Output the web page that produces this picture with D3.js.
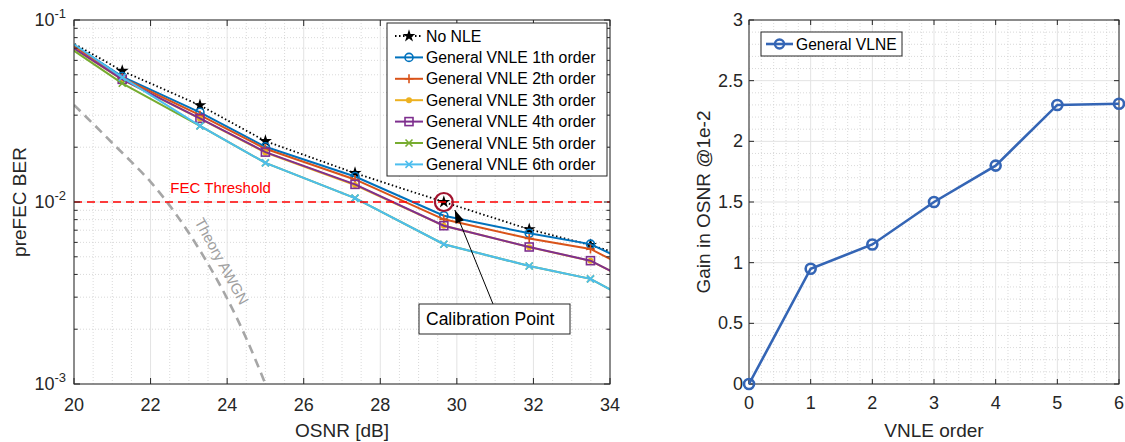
<!DOCTYPE html>
<html>
<head>
<meta charset="utf-8">
<script src="https://cdn.jsdelivr.net/npm/d3@7"></script>
<style>
  body { margin: 0; background: #fff; }
  svg { display: block; font-family: "Liberation Sans", Arial, sans-serif; }
</style>
</head>
<body>
<svg id="fig" width="1125" height="442"></svg>
<script>
// ---- left chart data (preFEC BER vs OSNR) ----
const osnr = [19.2, 21.26, 23.29, 25.0, 27.34, 29.66, 31.89, 33.49, 35.3];
const noNle = [0.0922, 0.0525, 0.0340, 0.0216, 0.0144, 0.0100, 0.00708, 0.0058, 0.00444];
const vnle1 = [0.0940, 0.0489, 0.0311, 0.0201, 0.0138, 0.00841, 0.00673, 0.00587, 0.00387];
const vnle2 = [0.0923, 0.0480, 0.0300, 0.0196, 0.0133, 0.00803, 0.0063, 0.00552, 0.00352];
const vnle3 = [0.0893, 0.0471, 0.0287, 0.0187, 0.0124, 0.0074, 0.00565, 0.00475, 0.00305];
const vnle4 = [0.0895, 0.0472, 0.0288, 0.0188, 0.0125, 0.00741, 0.00566, 0.00476, 0.00304];
const vnle5 = [0.0881, 0.0449, 0.0262, 0.0164, 0.0105, 0.00586, 0.00445, 0.00378, 0.00237];
const vnle6 = [0.0957, 0.0484, 0.0262, 0.0164, 0.0105, 0.00586, 0.00445, 0.00378, 0.00237];
const seriesNames = ["No NLE", "General VNLE 1th order", "General VNLE 2th order", "General VNLE 3th order",
  "General VNLE 4th order", "General VNLE 5th order", "General VNLE 6th order"];

const theoryOsnr = [20, 20.5, 21, 21.5, 22, 22.5, 23, 23.5, 24, 24.5, 25];
const theoryBer = [0.0341, 0.0269, 0.0211, 0.0166, 0.0129, 0.00955, 0.00676, 0.00457, 0.00295, 0.00178, 0.001];
const fecThreshold = 1e-2;
const calibration = [29.66, 0.0100];

const xTicksL = [20, 22, 24, 26, 28, 30, 32, 34];
const yTicksL = [1e-3, 1e-2, 1e-1];

// ---- right chart data (gain vs VNLE order) ----
const order = [0, 1, 2, 3, 4, 5, 6];
const gain = [0, 0.95, 1.15, 1.5, 1.8, 2.3, 2.31];
const yTicksR = [0, 0.5, 1, 1.5, 2, 2.5, 3];

const axisColor = "#262626";
const colors = ["#000000", "#0072BD", "#D95319", "#EDB120", "#7E2F8E", "#77AC30", "#4DBEEE"];
const markers = ["star", "circle", "plus", "dot", "square", "x", "x"];
const seriesData = [noNle, vnle1, vnle2, vnle3, vnle4, vnle5, vnle6];

const svg = d3.select("#fig");

function drawMarker(g, type, color, x, y) {
  if (type === "star") {
    g.append("path").attr("d", d3.symbol(d3.symbolStar, 52)())
      .attr("transform", `translate(${x},${y})`).attr("fill", color);
  } else if (type === "circle") {
    g.append("circle").attr("cx", x).attr("cy", y).attr("r", 4)
      .attr("fill", "none").attr("stroke", color).attr("stroke-width", 1.6);
  } else if (type === "square") {
    g.append("rect").attr("x", x - 4).attr("y", y - 4).attr("width", 8).attr("height", 8)
      .attr("fill", "none").attr("stroke", color).attr("stroke-width", 1.6);
  } else if (type === "dot") {
    g.append("circle").attr("cx", x).attr("cy", y).attr("r", 3).attr("fill", color);
  } else if (type === "plus") {
    g.append("path").attr("d", `M${x - 4.5},${y}H${x + 4.5}M${x},${y - 4.5}V${y + 4.5}`)
      .attr("stroke", color).attr("stroke-width", 1.6);
  } else if (type === "x") {
    g.append("path").attr("d", `M${x - 3.5},${y - 3.5}L${x + 3.5},${y + 3.5}M${x - 3.5},${y + 3.5}L${x + 3.5},${y - 3.5}`)
      .attr("stroke", color).attr("stroke-width", 1.6);
  }
}

// ================= LEFT CHART =================
const L = { left: 74, right: 610, top: 20, bottom: 384 };
const xL = d3.scaleLinear().domain([20, 34]).range([L.left, L.right]);
const yL = d3.scaleLog().domain([1e-3, 1e-1]).range([L.bottom, L.top]);

const gl = svg.append("g");

// minor grid
const xMinorL = d3.range(20, 34.01, 0.5).filter(v => v % 2 !== 0);
const yMinorL = [];
[1e-3, 1e-2].forEach(dec => { for (let k = 2; k <= 9; k++) yMinorL.push(dec * k); });

gl.selectAll(".xminor").data(xMinorL).join("line")
  .attr("x1", d => xL(d)).attr("x2", d => xL(d)).attr("y1", L.top).attr("y2", L.bottom)
  .attr("stroke", "#cfcfcf").attr("stroke-width", 0.8).attr("stroke-dasharray", "1,2");
gl.selectAll(".yminor").data(yMinorL).join("line")
  .attr("x1", L.left).attr("x2", L.right).attr("y1", d => yL(d)).attr("y2", d => yL(d))
  .attr("stroke", "#cfcfcf").attr("stroke-width", 0.8).attr("stroke-dasharray", "1,2");
// major grid
gl.selectAll(".xmajor").data(xTicksL).join("line")
  .attr("x1", d => xL(d)).attr("x2", d => xL(d)).attr("y1", L.top).attr("y2", L.bottom)
  .attr("stroke", "#e3e3e3").attr("stroke-width", 1);
gl.selectAll(".ymajor").data(yTicksL).join("line")
  .attr("x1", L.left).attr("x2", L.right).attr("y1", d => yL(d)).attr("y2", d => yL(d))
  .attr("stroke", "#e3e3e3").attr("stroke-width", 1);

svg.append("clipPath").attr("id", "clipL").append("rect")
  .attr("x", L.left).attr("y", L.top).attr("width", L.right - L.left).attr("height", L.bottom - L.top);
const plotL = gl.append("g").attr("clip-path", "url(#clipL)");

// theory AWGN curve
const theoryLine = d3.line().x((d, i) => xL(theoryOsnr[i])).y(d => yL(d)).curve(d3.curveMonotoneX);
plotL.append("path").attr("d", theoryLine(theoryBer))
  .attr("fill", "none").attr("stroke", "#a6a6a6").attr("stroke-width", 2.6).attr("stroke-dasharray", "9,6");

// measured series
seriesData.forEach((vals, s) => {
  const line = d3.line().x((d, i) => xL(osnr[i])).y(d => yL(d));
  plotL.append("path").attr("d", line(vals)).attr("fill", "none")
    .attr("stroke", colors[s]).attr("stroke-width", s === 0 ? 1.8 : 2)
    .attr("stroke-dasharray", s === 0 ? "1.5,2.5" : null);
  vals.forEach((v, i) => drawMarker(plotL, markers[s], colors[s], xL(osnr[i]), yL(v)));
});

// FEC threshold
plotL.append("line").attr("x1", L.left).attr("x2", L.right)
  .attr("y1", yL(fecThreshold)).attr("y2", yL(fecThreshold))
  .attr("stroke", "#ff0000").attr("stroke-width", 1.5).attr("stroke-dasharray", "8,5");
gl.append("text").attr("x", xL(23.83)).attr("y", yL(fecThreshold) - 9)
  .attr("text-anchor", "middle").attr("font-size", 15).attr("fill", "#ff0000").text("FEC Threshold");

// theory label
gl.append("text").attr("transform", `translate(222,261) rotate(61.5)`)
  .attr("text-anchor", "middle").attr("dominant-baseline", "central")
  .attr("font-size", 15).attr("fill", "#a0a0a0").text("Theory AWGN");

// calibration point circle
gl.append("circle").attr("cx", xL(calibration[0])).attr("cy", yL(calibration[1])).attr("r", 9)
  .attr("fill", "none").attr("stroke", "#A2142F").attr("stroke-width", 2.2);

// box + ticks
function boxAxes(g, box, xScale, yScale, xTicks, yTicks, yMinor, tickLen) {
  g.append("rect").attr("x", box.left).attr("y", box.top)
    .attr("width", box.right - box.left).attr("height", box.bottom - box.top)
    .attr("fill", "none").attr("stroke", axisColor).attr("stroke-width", 1);
  const tk = g.append("g").attr("stroke", axisColor).attr("stroke-width", 1);
  xTicks.forEach(v => {
    const x = xScale(v);
    tk.append("line").attr("x1", x).attr("x2", x).attr("y1", box.bottom).attr("y2", box.bottom - tickLen);
    tk.append("line").attr("x1", x).attr("x2", x).attr("y1", box.top).attr("y2", box.top + tickLen);
  });
  yTicks.forEach(v => {
    const y = yScale(v);
    tk.append("line").attr("x1", box.left).attr("x2", box.left + tickLen).attr("y1", y).attr("y2", y);
    tk.append("line").attr("x1", box.right).attr("x2", box.right - tickLen).attr("y1", y).attr("y2", y);
  });
  yMinor.forEach(v => {
    const y = yScale(v);
    tk.append("line").attr("x1", box.left).attr("x2", box.left + tickLen * 0.6).attr("y1", y).attr("y2", y);
    tk.append("line").attr("x1", box.right).attr("x2", box.right - tickLen * 0.6).attr("y1", y).attr("y2", y);
  });
}
boxAxes(gl, L, xL, yL, xTicksL, yTicksL, yMinorL, 6);

// tick labels
gl.selectAll(".xl").data(xTicksL).join("text")
  .attr("x", d => xL(d)).attr("y", L.bottom + 27).attr("text-anchor", "middle")
  .attr("font-size", 18).attr("fill", axisColor).text(d => d);
yTicksL.forEach(v => {
  const t = gl.append("text").attr("x", L.left - 8).attr("y", yL(v) + 6)
    .attr("text-anchor", "end").attr("font-size", 18).attr("fill", axisColor);
  t.append("tspan").text("10");
  t.append("tspan").attr("dy", -8).attr("font-size", 13).text(Math.round(Math.log10(v)));
});
gl.append("text").attr("x", (L.left + L.right) / 2).attr("y", 437).attr("text-anchor", "middle")
  .attr("font-size", 19).attr("fill", axisColor).text("OSNR [dB]");
gl.append("text").attr("transform", `translate(26,${(L.top + L.bottom) / 2}) rotate(-90)`)
  .attr("text-anchor", "middle").attr("font-size", 19).attr("fill", axisColor).text("preFEC BER");

// legend
const lg = gl.append("g");
lg.append("rect").attr("x", 387).attr("y", 23).attr("width", 220).attr("height", 153)
  .attr("fill", "#fff").attr("stroke", axisColor).attr("stroke-width", 1);
seriesNames.forEach((name, s) => {
  const y = 36 + s * 21.4;
  lg.append("line").attr("x1", 395).attr("x2", 423).attr("y1", y).attr("y2", y)
    .attr("stroke", colors[s]).attr("stroke-width", s === 0 ? 1.8 : 2)
    .attr("stroke-dasharray", s === 0 ? "1.5,2.5" : null);
  drawMarker(lg, markers[s], colors[s], 409, y);
  lg.append("text").attr("x", 426).attr("y", y + 5.5).attr("font-size", 15.8)
    .attr("fill", "#000").text(name);
});

// calibration annotation
const boxX = 419, boxY = 304, boxW = 151, boxH = 30;
const tipX = xL(calibration[0]) + 11, tipY = yL(calibration[1]) + 8;
const baseX = 493, baseY = boxY;
gl.append("line").attr("x1", baseX).attr("y1", baseY).attr("x2", tipX).attr("y2", tipY)
  .attr("stroke", "#000").attr("stroke-width", 1);
const ang = Math.atan2(baseY - tipY, baseX - tipX);
const al = 13, aw = 4.5;
const bx = tipX + al * Math.cos(ang), by = tipY + al * Math.sin(ang);
gl.append("path").attr("d",
  `M${tipX},${tipY}L${bx + aw * Math.sin(ang)},${by - aw * Math.cos(ang)}L${bx - aw * Math.sin(ang)},${by + aw * Math.cos(ang)}Z`)
  .attr("fill", "#000");
gl.append("rect").attr("x", boxX).attr("y", boxY).attr("width", boxW).attr("height", boxH)
  .attr("fill", "#fff").attr("stroke", axisColor).attr("stroke-width", 1);
gl.append("text").attr("x", boxX + 7).attr("y", boxY + 21).attr("font-size", 17.5)
  .attr("fill", "#000").text("Calibration Point");

// ================= RIGHT CHART =================
const R = { left: 749, right: 1119, top: 20, bottom: 384 };
const xR = d3.scaleLinear().domain([0, 6]).range([R.left, R.right]);
const yR = d3.scaleLinear().domain([0, 3]).range([R.bottom, R.top]);
const gr = svg.append("g");

const xMinorR = d3.range(0, 6.001, 0.2).filter(v => Math.abs(v - Math.round(v)) > 1e-6);
const yMinorR = d3.range(0, 3.001, 0.1).filter(v => Math.abs(v * 2 - Math.round(v * 2)) > 1e-6);
gr.selectAll(".xminor").data(xMinorR).join("line")
  .attr("x1", d => xR(d)).attr("x2", d => xR(d)).attr("y1", R.top).attr("y2", R.bottom)
  .attr("stroke", "#cfcfcf").attr("stroke-width", 0.8).attr("stroke-dasharray", "1,2");
gr.selectAll(".yminor").data(yMinorR).join("line")
  .attr("x1", R.left).attr("x2", R.right).attr("y1", d => yR(d)).attr("y2", d => yR(d))
  .attr("stroke", "#cfcfcf").attr("stroke-width", 0.8).attr("stroke-dasharray", "1,2");
gr.selectAll(".xmajor").data(order).join("line")
  .attr("x1", d => xR(d)).attr("x2", d => xR(d)).attr("y1", R.top).attr("y2", R.bottom)
  .attr("stroke", "#e3e3e3").attr("stroke-width", 1);
gr.selectAll(".ymajor").data(yTicksR).join("line")
  .attr("x1", R.left).attr("x2", R.right).attr("y1", d => yR(d)).attr("y2", d => yR(d))
  .attr("stroke", "#e3e3e3").attr("stroke-width", 1);

boxAxes(gr, R, xR, yR, order, yTicksR, [], 5);

const gainColor = "#3465B5";
gr.append("path").attr("d", d3.line().x((d, i) => xR(order[i])).y(d => yR(d))(gain))
  .attr("fill", "none").attr("stroke", gainColor).attr("stroke-width", 2.6);
gr.selectAll(".pt").data(gain).join("circle")
  .attr("cx", (d, i) => xR(order[i])).attr("cy", d => yR(d)).attr("r", 5)
  .attr("fill", "none").attr("stroke", gainColor).attr("stroke-width", 2.6);

gr.selectAll(".xl").data(order).join("text")
  .attr("x", d => xR(d)).attr("y", R.bottom + 25).attr("text-anchor", "middle")
  .attr("font-size", 18).attr("fill", axisColor).text(d => d);
gr.selectAll(".yl").data(yTicksR).join("text")
  .attr("x", R.left - 6).attr("y", d => yR(d) + 6).attr("text-anchor", "end")
  .attr("font-size", 18).attr("fill", axisColor).text(d => d);
gr.append("text").attr("x", (R.left + R.right) / 2).attr("y", 437).attr("text-anchor", "middle")
  .attr("font-size", 19).attr("fill", axisColor).text("VNLE order");
gr.append("text").attr("transform", `translate(710,${(R.top + R.bottom) / 2}) rotate(-90)`)
  .attr("text-anchor", "middle").attr("font-size", 19).attr("fill", axisColor).text("Gain in OSNR @1e-2");

// legend
gr.append("rect").attr("x", 761).attr("y", 32).attr("width", 141).attr("height", 24)
  .attr("fill", "#fff").attr("stroke", axisColor).attr("stroke-width", 1);
gr.append("line").attr("x1", 766).attr("x2", 793).attr("y1", 44).attr("y2", 44)
  .attr("stroke", gainColor).attr("stroke-width", 2.6);
gr.append("circle").attr("cx", 779.5).attr("cy", 44).attr("r", 4.5)
  .attr("fill", "none").attr("stroke", gainColor).attr("stroke-width", 2.4);
gr.append("text").attr("x", 796).attr("y", 49.5).attr("font-size", 15.6)
  .attr("fill", "#000").text("General VLNE");
</script>
</body>
</html>
